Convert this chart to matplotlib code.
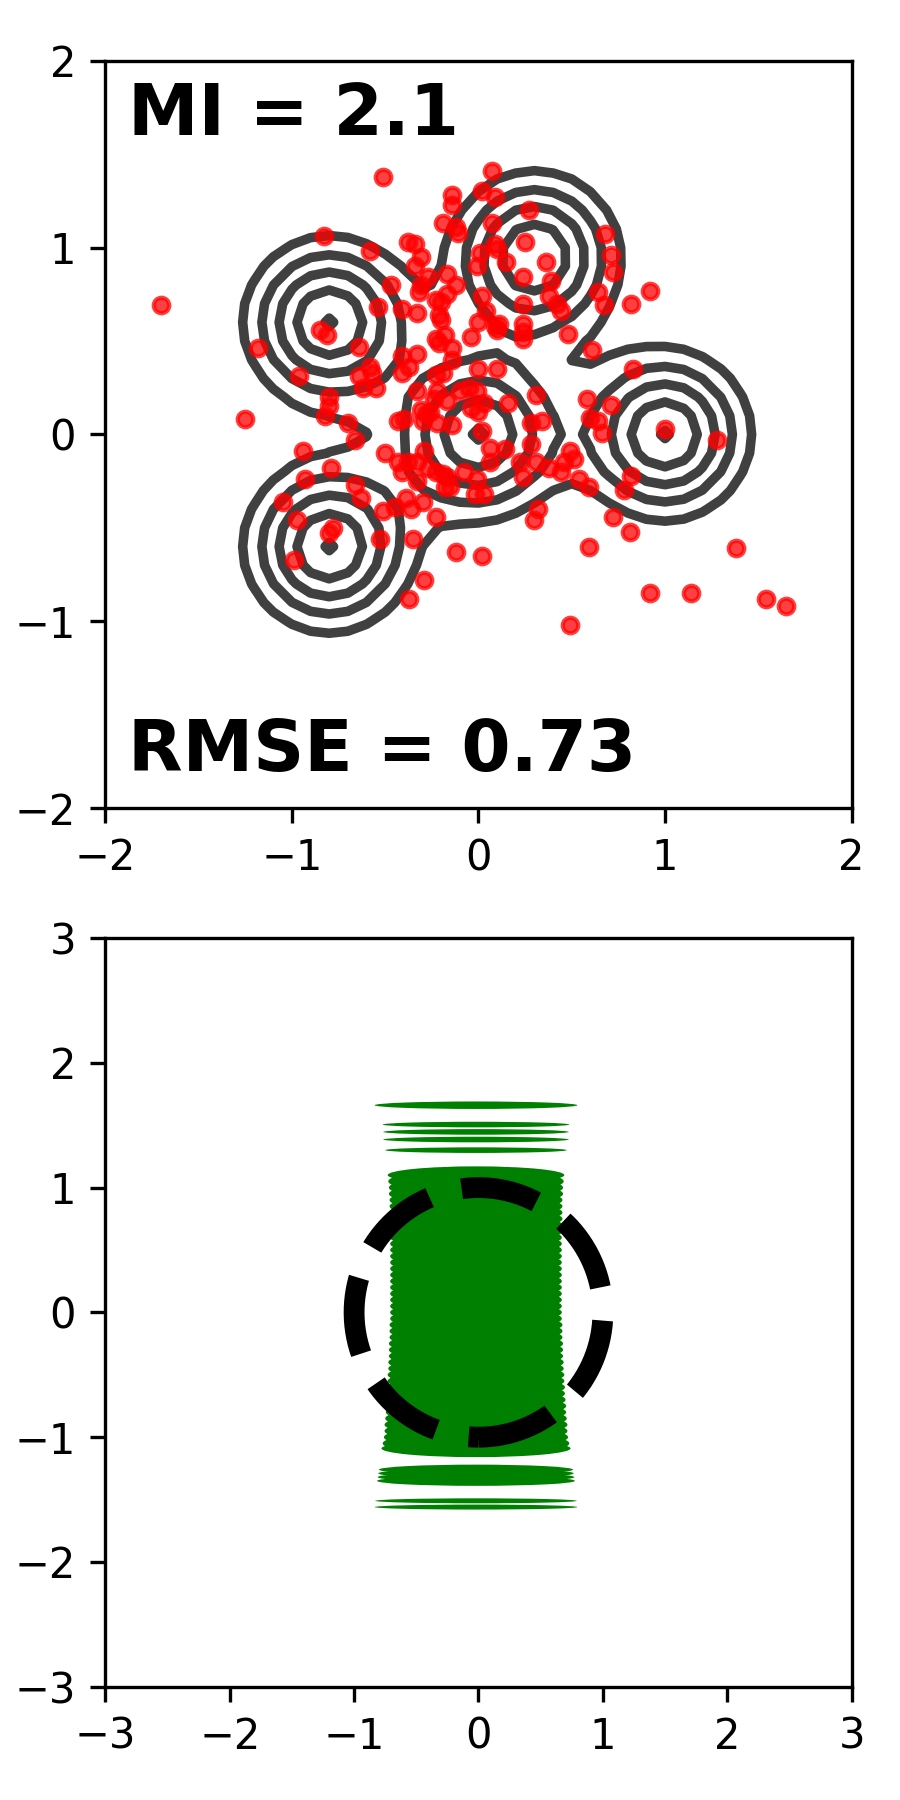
import numpy as np
import matplotlib
matplotlib.use("Agg")
import matplotlib.pyplot as plt
from matplotlib.patches import Ellipse

# mixture components behind the contours
means_x = [-0.8, 0.3, 0.0, 1.0, -0.8]
means_y = [0.6, 0.95, 0.0, 0.0, -0.6]
sigma = 0.28
levels = [0.26, 0.44, 0.63, 0.82, 0.988]

# red sample points
pts_x = [-0.51, -1.70, -0.83, -0.58, 0.07, 0.02, -0.14, -0.14, 0.09, -0.19,
         -0.12, -0.11, 0.07, -0.38, -0.34, -0.31, -0.34, 0.01, -0.01, -0.27,
         -0.17, -0.47, -0.31, -0.32, -0.12, -0.17, -0.23, -0.20, -0.54, -0.41,
         -0.33, -0.21, -0.20, 0.02, 0.04, 0.00, 0.09, -0.85, -0.81, -0.23,
         -0.18, -0.21, -0.04, -0.64, -1.18, -0.14, -0.14, -0.41, -0.33, -0.37,
         -0.41, -0.58, -0.57, -0.64, -0.62, -0.55, -0.96, -0.23, -0.19, 0.00,
         0.10, -0.33, -0.22, -0.80, -0.80, -0.82, -1.25, -0.70, -0.31, -0.28,
         -0.24, -0.43, -0.40, -0.17, -0.10, -0.05, -0.01, -0.04, 0.00, 0.03,
         0.27, 0.25, 0.09, 0.10, 0.15, 0.36, 0.24, 0.39, 0.38, 0.42,
         0.44, 0.68, 0.71, 0.72, 0.64, 0.67, 0.82, 0.92, 0.48, 0.61,
         0.83, 0.24, 0.24, 0.24, 0.24, 0.11, 0.10, 0.31, 0.16, 0.58,
         0.71, 0.60, 0.64, 1.00, 0.28, 0.34,
         0.66, 1.28, 0.82, 0.78, 0.72, 0.81, 0.59, 1.38, 0.92, 1.14,
         1.54, 1.65, 0.49, -0.12, 0.02, 0.32, 0.30, 0.49, 0.51, 0.46,
         0.44, 0.38, 0.54, 0.59, 0.31, 0.28, 0.22, 0.24, 0.14, 0.06,
         0.06, 0.02, -0.14, -0.08, -0.01, -0.02, 0.03, -0.15,
         -0.66, -0.50, -0.94, -0.79, -0.93, -0.66, -0.63, -1.05, -0.97, -0.80,
         -0.78, -0.99, -0.53, -0.51, -0.45, -0.39, -0.36, -0.30, -0.23, -0.35,
         -0.29, -0.37, -0.30, -0.22, -0.29, -0.43, -0.41, -0.38, -0.33, -0.33,
         -0.27, -0.23, -0.17, -0.18, -0.19, -0.26]
pts_y = [1.38, 0.69, 1.06, 0.98, 1.41, 1.30, 1.28, 1.23, 1.27, 1.13,
         1.11, 1.08, 1.13, 1.03, 1.02, 0.95, 0.90, 0.97, 0.90, 0.84,
         0.86, 0.80, 0.80, 0.76, 0.80, 0.75, 0.72, 0.71, 0.68, 0.67,
         0.65, 0.64, 0.61, 0.74, 0.66, 0.60, 0.58, 0.56, 0.53, 0.51,
         0.53, 0.49, 0.52, 0.47, 0.46, 0.46, 0.40, 0.42, 0.43, 0.36,
         0.33, 0.36, 0.33, 0.31, 0.25, 0.25, 0.31, 0.32, 0.33, 0.35,
         0.35, 0.23, 0.23, 0.20, 0.15, 0.10, 0.08, 0.06, 0.13, 0.11,
         0.19, 0.07, 0.08, 0.18, 0.23, 0.25, 0.23, 0.14, 0.12, 0.17,
         1.20, 1.03, 1.02, 0.99, 0.92, 0.92, 0.84, 0.82, 0.74, 0.70,
         0.66, 1.07, 0.96, 0.87, 0.76, 0.69, 0.70, 0.77, 0.54, 0.45,
         0.35, 0.70, 0.59, 0.55, 0.51, 0.59, 0.56, 0.21, 0.17, 0.19,
         0.16, 0.09, 0.07, 0.03, 0.06, 0.07,
         0.01, -0.03, -0.22, -0.30, -0.44, -0.52, -0.60, -0.61, -0.85, -0.85,
         -0.88, -0.92, -1.02, -0.63, -0.65, -0.40, -0.46, -0.09, -0.13, -0.15,
         -0.20, -0.18, -0.24, -0.28, -0.15, -0.05, -0.15, -0.23, -0.08, -0.07,
         -0.15, 0.02, 0.05, -0.20, -0.24, -0.32, -0.32, -0.28,
         -0.03, -0.10, -0.09, -0.18, -0.24, -0.27, -0.34, -0.36, -0.46, -0.53,
         -0.50, -0.67, -0.56, -0.41, -0.39, -0.34, -0.40, -0.36, -0.44, -0.56,
         -0.78, -0.88, 0.07, 0.06, -0.09, -0.15, -0.20, -0.15, -0.15, -0.25,
         -0.18, -0.20, -0.23, -0.28, -0.21, 0.12]

# green flat ellipses in the bottom panel: centre y, width, height
band_y = [1.66, 1.505, 1.446, 1.385, 1.30,
          1.10, 1.05, 1.00, 0.95, 0.90, 0.85, 0.80, 0.75, 0.70, 0.65, 0.60,
          0.55, 0.50, 0.45, 0.40, 0.35, 0.30, 0.25, 0.20, 0.15, 0.10, 0.05,
          0.00, -0.05, -0.10, -0.15, -0.20, -0.25, -0.30, -0.35, -0.40, -0.45,
          -0.50, -0.55, -0.60, -0.65, -0.70, -0.75, -0.80, -0.85, -0.90, -0.95,
          -1.00, -1.05, -1.09,
          -1.26, -1.29, -1.32, -1.35,
          -1.51, -1.56]
band_w = [1.63, 1.50, 1.49, 1.49, 1.46,
          1.42, 1.41, 1.40, 1.40, 1.39, 1.39, 1.39, 1.39, 1.39, 1.39, 1.38,
          1.38, 1.38, 1.38, 1.38, 1.38, 1.38, 1.38, 1.38, 1.38, 1.38, 1.38,
          1.38, 1.38, 1.39, 1.39, 1.39, 1.40, 1.40, 1.40, 1.41, 1.41,
          1.42, 1.42, 1.43, 1.43, 1.44, 1.45, 1.45, 1.46, 1.47, 1.47,
          1.48, 1.50, 1.52,
          1.56, 1.57, 1.58, 1.59,
          1.62, 1.63]
band_h = ([0.06, 0.045, 0.045, 0.045, 0.045] + [0.14] + [0.2] * 43 + [0.14]
          + [0.08] * 4 + [0.04, 0.04])
band_x = -0.02

fig = plt.figure(figsize=(3, 6), dpi=300)
ax1 = fig.add_axes([0.117, 0.551, 0.8293, 0.4153])
ax2 = fig.add_axes([0.117, 0.0629, 0.8293, 0.4160])

# top: mixture density contours + samples
g = np.linspace(-2, 2, 41)
X, Y = np.meshgrid(g, g)
Z = np.zeros_like(X)
for mx, my in zip(means_x, means_y):
    Z += np.exp(-((X - mx) ** 2 + (Y - my) ** 2) / (2 * sigma ** 2))
cs = ax1.contour(X, Y, Z, levels=levels, colors="#404040", linewidths=2.3, zorder=1)
ax1.scatter(pts_x, pts_y, c="red", s=14, alpha=0.75, zorder=2)
ax1.text(-1.88, 1.89, "MI = 2.1", fontsize=17, fontweight="bold", va="top", ha="left")
ax1.text(-1.88, -1.88, "RMSE = 0.73", fontsize=17, fontweight="bold", va="bottom", ha="left")
ax1.set_xlim(-2, 2)
ax1.set_ylim(-2, 2)
ax1.set_xticks([-2, -1, 0, 1, 2])
ax1.set_yticks([-2, -1, 0, 1, 2])

# bottom: stacked flat ellipses + dashed unit circle (drawn from the bottom, ccw)
for yy, ww, hh in zip(band_y, band_w, band_h):
    ax2.add_patch(Ellipse((band_x, yy), ww, hh, color="green", lw=0, zorder=1))
t = np.linspace(-np.pi / 2, 1.5 * np.pi, 400)
ax2.plot(np.cos(t), np.sin(t), "k--", lw=5.0, zorder=3)
ax2.set_xlim(-3, 3)
ax2.set_ylim(-3, 3)
ax2.set_xticks([-3, -2, -1, 0, 1, 2, 3])
ax2.set_yticks([-3, -2, -1, 0, 1, 2, 3])

fig.savefig("out.png", dpi=300)
